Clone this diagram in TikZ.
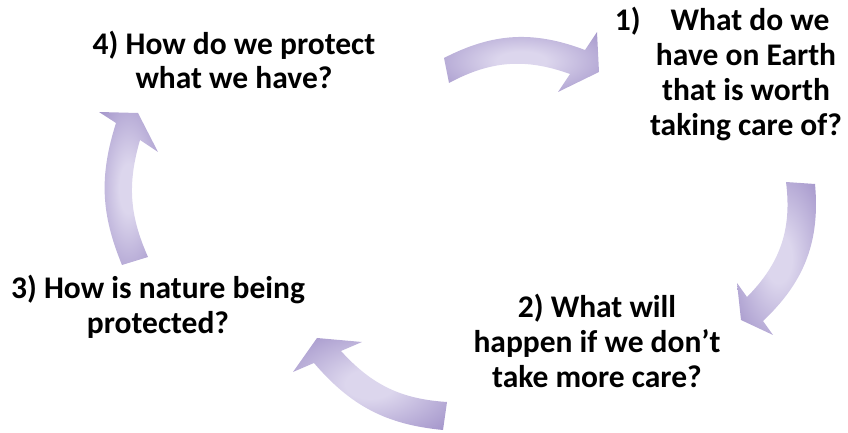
\documentclass[tikz,border=0pt]{standalone}
\usepackage{fontspec}
\setmainfont{Carlito}
\definecolor{arrowdark}{RGB}{140,122,188}
\definecolor{arrowlight}{RGB}{220,214,237}
\pgfdeclareradialshading{arrowglow}{\pgfpoint{0bp}{0bp}}{color(0bp)=(arrowlight); color(8bp)=(arrowlight); color(46bp)=(arrowdark); color(75bp)=(arrowdark)}
\tikzset{every picture/.style={line width=0.5pt}}
\tikzset{question/.style={font=\fontsize{31.5}{34.7}\selectfont\bfseries,align=center,inner sep=0pt}}
\tikzset{cycarrow/.style={shading=arrowglow}}

\begin{document}
\begin{tikzpicture}[x=1pt,y=1pt]
\useasboundingbox (0,0) rectangle (848,433);
% questions
\node[question] (Q1) at (746,359) {\llap{1)\hspace{22pt}}\hspace*{8pt}What do we\\have on Earth\\that is worth\\taking care of?};
\node[question] (Q2) at (597,92) {2) What will\\happen if we don’t\\take more care?};
\node[question] (Q3) at (158,126) {3) How is nature being\\protected?};
\node[question] (Q4) at (234,373) {4) How do we protect\\what we have?};
% curved arrows
\shade[cycarrow] (444,375) to[bend left=24] (585,383) -- (597,401) -- (599,361) -- (558,341)
  -- (570,359) to[bend right=24] (449,350) -- cycle;
\shade[cycarrow] (815,249) to[bend left=26] (763,112) -- (773,98) -- (741,113) -- (737,150)
  -- (747,136) to[bend right=26] (786,251) -- cycle;
\shade[cycarrow] (443,3) to[bend left=22] (314,70) -- (293,61) -- (317,95) -- (362,91)
  -- (341,82) to[bend right=22] (447,31) -- cycle;
\shade[cycarrow] (122,168) to[bend left=20] (116,310) -- (99,321) -- (138,320) -- (158,281)
  -- (140,293) to[bend right=20] (148,176) -- cycle;
\end{tikzpicture}
\end{document}
